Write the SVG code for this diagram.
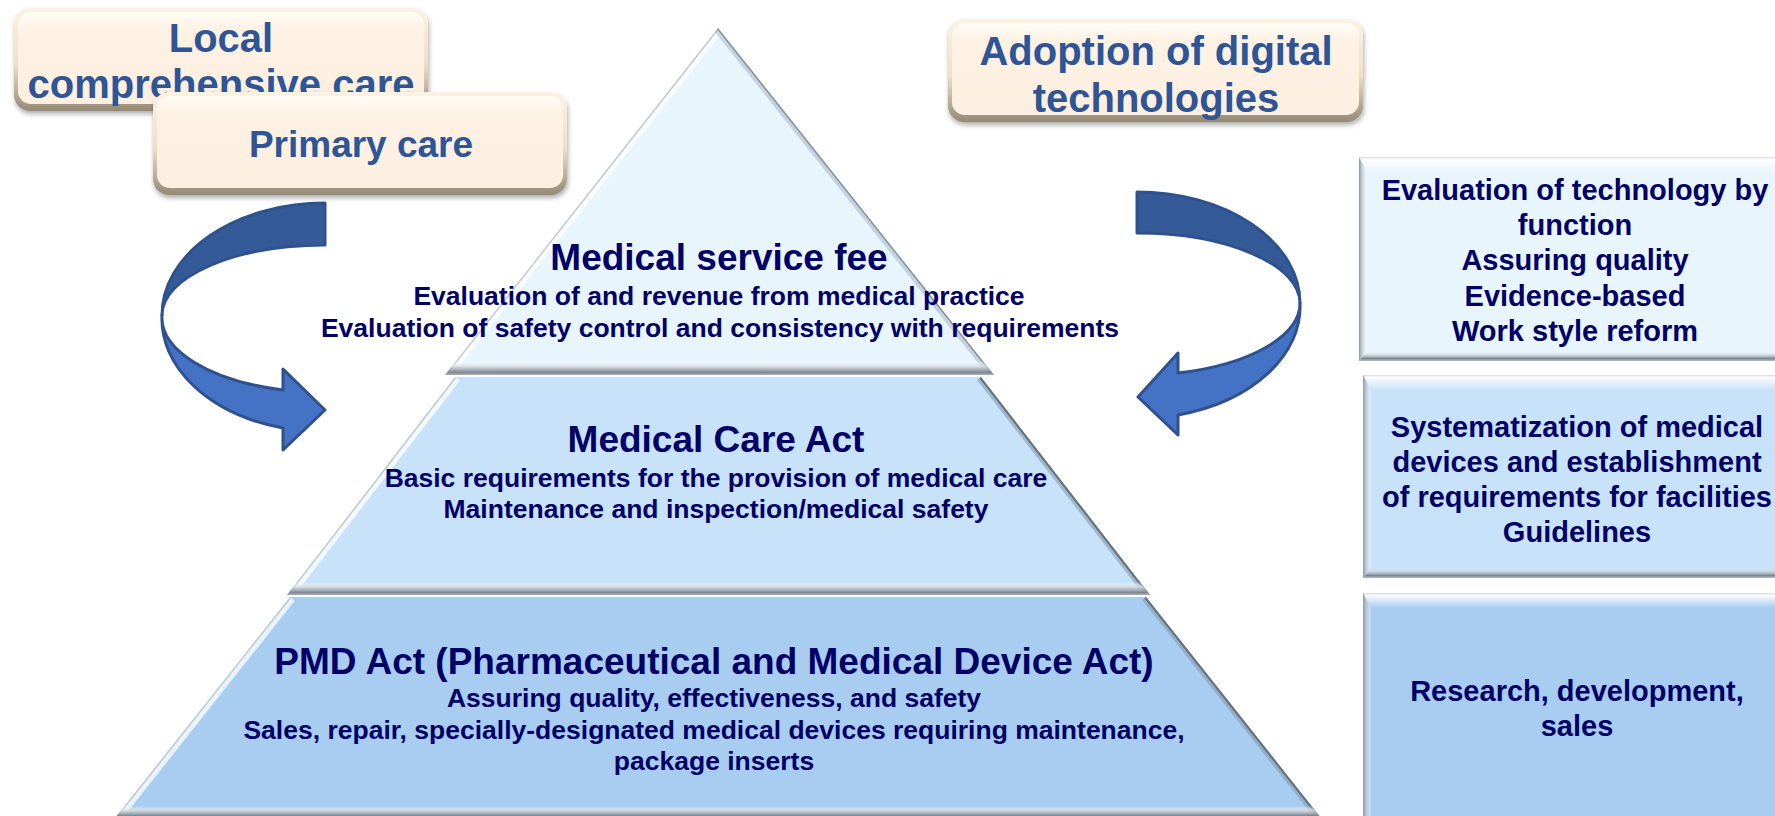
<svg xmlns="http://www.w3.org/2000/svg" width="1775" height="816" viewBox="0 0 1775 816">
<style>
.t{font-family:"Liberation Sans",Arial,sans-serif;font-weight:bold;text-anchor:middle}
.cream-t{fill:#2F5597}
.navy{fill:#000066}
.h{font-size:37px}
.b{font-size:26.5px}
.r{font-size:29px}
.arrow-dark{fill:#345B97;stroke:#2F528F;stroke-width:3;stroke-linejoin:round}
.arrow-light{fill:#4472C4;stroke:#2F528F;stroke-width:3;stroke-linejoin:round}
.cream-edge{fill:url(#creamEdge);filter:url(#shadow)}
.cream-face{fill:url(#creamFace)}
.ledge{stroke:#FFFFFF;stroke-width:12;opacity:0.75}
.ledge2{stroke:#C3C9CF;stroke-width:3}
.redge{stroke:#7F95AB;stroke-width:10;opacity:0.55}
.redge2{stroke:#66707A;stroke-width:4}
</style>
<defs>
<linearGradient id="creamEdge" x1="0" y1="0" x2="0" y2="1">
<stop offset="0" stop-color="#FBF3E3"/>
<stop offset="0.55" stop-color="#EEE0C6"/>
<stop offset="1" stop-color="#948975"/>
</linearGradient>
<linearGradient id="creamFace" x1="0" y1="0" x2="0" y2="1">
<stop offset="0" stop-color="#FFFDF8"/>
<stop offset="0.18" stop-color="#FEF2E4"/>
<stop offset="1" stop-color="#FDEFE0"/>
</linearGradient>
<filter id="shadow" x="-10%" y="-15%" width="125%" height="140%">
<feDropShadow dx="1" dy="3" stdDeviation="2.5" flood-color="#000" flood-opacity="0.32"/>
</filter>
<linearGradient id="bandBot" x1="0" y1="0" x2="0" y2="1">
<stop offset="0" stop-color="#FFFFFF" stop-opacity="0"/>
<stop offset="0.35" stop-color="#D9DFE5" stop-opacity="0.8"/>
<stop offset="0.8" stop-color="#7E8892"/>
<stop offset="1" stop-color="#A9B1B9"/>
</linearGradient>
<linearGradient id="bevTop" x1="0" y1="0" x2="0" y2="1">
<stop offset="0" stop-color="#D5DADF"/>
<stop offset="0.15" stop-color="#FFFFFF" stop-opacity="0.95"/>
<stop offset="1" stop-color="#FFFFFF" stop-opacity="0"/>
</linearGradient>
<linearGradient id="bevLeft" x1="0" y1="0" x2="1" y2="0">
<stop offset="0" stop-color="#8E99A4"/>
<stop offset="1" stop-color="#FFFFFF" stop-opacity="0.3"/>
</linearGradient>
<linearGradient id="bevBot" x1="0" y1="0" x2="0" y2="1">
<stop offset="0" stop-color="#FFFFFF" stop-opacity="0"/>
<stop offset="0.75" stop-color="#7C8792"/>
<stop offset="1" stop-color="#B5BDC5"/>
</linearGradient>
<clipPath id="c1"><polygon points="718,28 994,375 445,375"/></clipPath>
<clipPath id="c2"><polygon points="455,377 981,377 1150,595 287,595"/></clipPath>
<clipPath id="c3"><polygon points="290,597 1146,597 1321,818 115,818"/></clipPath>
</defs>
<rect width="1775" height="816" fill="#FFFFFF"/>

<!-- Pyramid -->
<g id="node-tier3">
<polygon points="290,597 1146,597 1321,818 115,818" fill="#A8CDF1"/>
<g clip-path="url(#c3)">
<line class="ledge" x1="290" y1="597" x2="115" y2="818"/>
<line class="ledge2" x1="290" y1="597" x2="115" y2="818"/>
<line class="redge" x1="1146" y1="597" x2="1321" y2="818"/>
<line class="redge2" x1="1146" y1="597" x2="1321" y2="818"/>
<rect x="100" y="806" width="1240" height="12" fill="url(#bandBot)"/>
</g>
<text class="t navy h" x="714" y="674">PMD Act (Pharmaceutical and Medical Device Act)</text>
<text class="t navy b" x="714" y="707">Assuring quality, effectiveness, and safety</text>
<text class="t navy b" x="714" y="739">Sales, repair, specially-designated medical devices requiring maintenance,</text>
<text class="t navy b" x="714" y="770">package inserts</text>
</g>

<g id="node-tier2">
<polygon points="455,377 981,377 1150,595 287,595" fill="#C8E2F9"/>
<g clip-path="url(#c2)">
<line class="ledge" x1="455" y1="377" x2="287" y2="595"/>
<line class="ledge2" x1="455" y1="377" x2="287" y2="595"/>
<line class="redge" x1="981" y1="377" x2="1150" y2="595"/>
<line class="redge2" x1="981" y1="377" x2="1150" y2="595"/>
<rect x="280" y="582" width="880" height="13" fill="url(#bandBot)"/>
</g>
<text class="t navy h" x="716" y="452">Medical Care Act</text>
<text class="t navy b" x="716" y="487">Basic requirements for the provision of medical care</text>
<text class="t navy b" x="716" y="518">Maintenance and inspection/medical safety</text>
</g>

<g id="node-tier1">
<polygon points="718,28 994,375 445,375" fill="#E9F5FD"/>
<g clip-path="url(#c1)">
<line class="ledge" x1="718" y1="28" x2="445" y2="375"/>
<line class="ledge2" x1="718" y1="28" x2="445" y2="375"/>
<line class="redge" x1="718" y1="28" x2="994" y2="375" style="opacity:0.35"/>
<line class="redge2" x1="718" y1="28" x2="994" y2="375" style="stroke:#8A939C;stroke-width:3"/>
<rect x="440" y="361" width="560" height="14" fill="url(#bandBot)"/>
</g>
<text class="t navy h" x="719" y="270">Medical service fee</text>
<text class="t navy b" x="719" y="305">Evaluation of and revenue from medical practice</text>
<text class="t navy b" x="720" y="337">Evaluation of safety control and consistency with requirements</text>
</g>

<!-- Cream boxes -->
<g id="node-local">
<rect class="cream-edge" x="14" y="8" width="414" height="103" rx="16"/>
<rect class="cream-face" x="18" y="12" width="406" height="92" rx="13"/>
<text class="t cream-t" style="font-size:40px" x="221" y="52">Local</text>
<text class="t cream-t" style="font-size:40px" x="221" y="98">comprehensive care</text>
</g>
<g id="node-primary">
<rect class="cream-edge" x="153" y="92" width="414" height="103" rx="16"/>
<rect class="cream-face" x="157" y="96" width="406" height="92" rx="13"/>
<text class="t cream-t" style="font-size:37px" x="361" y="157">Primary care</text>
</g>
<g id="node-adoption">
<rect class="cream-edge" x="948" y="19" width="415" height="103" rx="16"/>
<rect class="cream-face" x="952" y="23" width="407" height="92" rx="13"/>
<text class="t cream-t" style="font-size:40px" x="1156" y="65">Adoption of digital</text>
<text class="t cream-t" style="font-size:40px" x="1156" y="112">technologies</text>
</g>

<!-- Right boxes -->
<g id="node-box1">
<rect x="1359" y="157" width="431" height="204" fill="#E9F5FD"/>
<polygon points="1359,157 1790,157 1782,172 1367,172" fill="url(#bevTop)"/>
<polygon points="1359,157 1367,172 1367,351 1359,361" fill="url(#bevLeft)"/>
<polygon points="1359,361 1367,351 1782,351 1790,361" fill="url(#bevBot)"/>
<text class="t navy r" x="1575" y="200">Evaluation of technology by</text>
<text class="t navy r" x="1575" y="235">function</text>
<text class="t navy r" x="1575" y="270">Assuring quality</text>
<text class="t navy r" x="1575" y="306">Evidence-based</text>
<text class="t navy r" x="1575" y="341">Work style reform</text>
</g>
<g id="node-box2">
<rect x="1363" y="375" width="427" height="203" fill="#C8E2F9"/>
<polygon points="1363,375 1790,375 1782,390 1371,390" fill="url(#bevTop)"/>
<polygon points="1363,375 1371,390 1371,568 1363,578" fill="url(#bevLeft)"/>
<polygon points="1363,578 1371,568 1782,568 1790,578" fill="url(#bevBot)"/>
<text class="t navy r" x="1577" y="437">Systematization of medical</text>
<text class="t navy r" x="1577" y="472">devices and establishment</text>
<text class="t navy r" x="1577" y="507">of requirements for facilities</text>
<text class="t navy r" x="1577" y="542">Guidelines</text>
</g>
<g id="node-box3">
<rect x="1363" y="593" width="427" height="240" fill="#A8CDF1"/>
<polygon points="1363,593 1790,593 1782,608 1371,608" fill="url(#bevTop)"/>
<polygon points="1363,593 1371,608 1371,822 1363,833" fill="url(#bevLeft)"/>
<text class="t navy r" x="1577" y="701">Research, development,</text>
<text class="t navy r" x="1577" y="736">sales</text>
</g>

<!-- Curved arrows -->
<g id="connectors">
<g id="arrow-left">
<path class="arrow-dark" d="M325,203 A163,112 0 0 0 162,315 A163,70 0 0 1 325,245 Z"/>
<path class="arrow-light" d="M162,315 A163,113 0 0 0 283,428 L283,450 L325,410 L283,369 L283,390 A163,75 0 0 1 162,315 Z"/>
</g>
<g id="arrow-right">
<path class="arrow-dark" d="M1137,192 A163,111 0 0 1 1300,303 A163,70 0 0 0 1137,233 Z"/>
<path class="arrow-light" d="M1300,303 A163,112 0 0 1 1178,415 L1178,435 L1138,397 L1178,353 L1178,373 A163,72 0 0 0 1300,303 Z"/>
</g>
</g>
</svg>
